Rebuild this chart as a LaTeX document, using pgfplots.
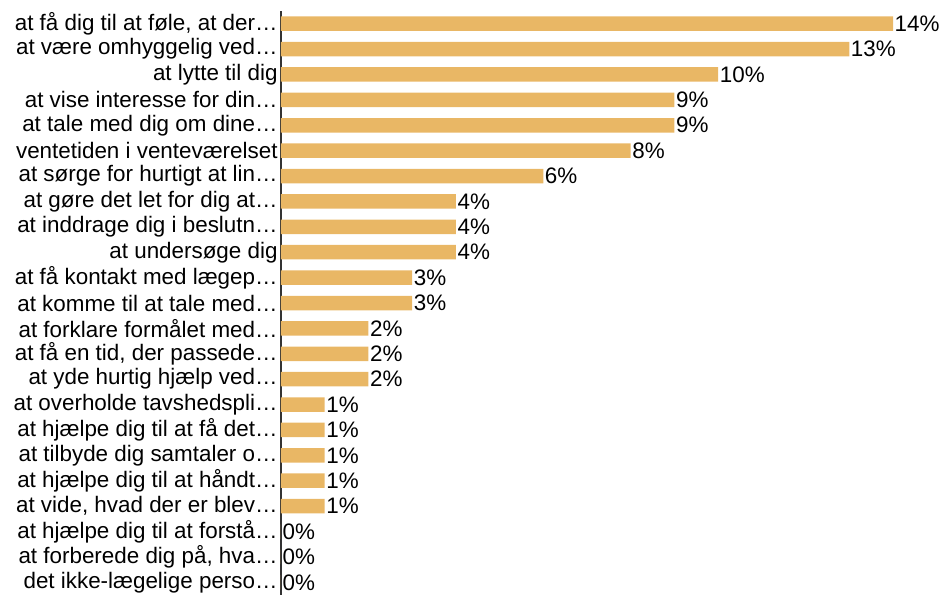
\documentclass[border=0pt]{standalone}
\usepackage{fontspec}
\setmainfont{Liberation Sans}
\usepackage{pgfplots}
\pgfplotsset{compat=1.18}
\definecolor{barc}{RGB}{233,183,101}
\definecolor{axc}{RGB}{51,51,51}
\pgfplotstableread{
y x
0 14
1 13
2 10
3 9
4 9
5 8
6 6
7 4
8 4
9 4
10 3
11 3
12 2
13 2
14 2
15 1
16 1
17 1
18 1
19 1
20 0
21 0
22 0
}\datatable
\newcommand{\chartfont}{\fontsize{22.4bp}{26bp}\selectfont}
\begin{document}
\chartfont
\begin{tikzpicture}
\begin{axis}[
  at={(0,0)}, anchor=south west,
  xbar, scale only axis, width=612bp, height=584bp,
  xmin=0, xmax=14, ymin=-0.5, ymax=22.5, y dir=reverse,
  hide x axis,
  axis y line*=left,
  y axis line style={axc, line width=1.4bp},
  ytick={0,...,22},
  ytick style={draw=none},
  /pgf/number format/assume math mode=true,
  yticklabels={
    {at få dig til at føle, at der…},
    {at være omhyggelig ved…},
    {at lytte til dig},
    {at vise interesse for din…},
    {at tale med dig om dine…},
    {ventetiden i venteværelset},
    {at sørge for hurtigt at lin…},
    {at gøre det let for dig at…},
    {at inddrage dig i beslutn…},
    {at undersøge dig},
    {at få kontakt med lægep…},
    {at komme til at tale med…},
    {at forklare formålet med…},
    {at få en tid, der passede…},
    {at yde hurtig hjælp ved…},
    {at overholde tavshedspli…},
    {at hjælpe dig til at få det…},
    {at tilbyde dig samtaler o…},
    {at hjælpe dig til at håndt…},
    {at vide, hvad der er blev…},
    {at hjælpe dig til at forstå…},
    {at forberede dig på, hva…},
    {det ikke-lægelige perso…}
  },
  yticklabel style={font=\chartfont, text=black, inner xsep=0pt, xshift=1bp},
  clip=false,
]
\addplot[fill=barc, draw=none, bar width=14.5bp, bar shift=0pt,
  point meta=x,
  nodes near coords={\pgfmathprintnumber[assume math mode=true]{\pgfplotspointmeta}\%},
  nodes near coords align=horizontal,
  every node near coord/.append style={font=\chartfont, text=black, inner xsep=1.5bp, anchor=west},
] table[x=x, y=y] {\datatable};
\end{axis}
\pgfresetboundingbox
\path[use as bounding box] (-281bp,0) rectangle (662bp,595bp);
\end{tikzpicture}
\end{document}
